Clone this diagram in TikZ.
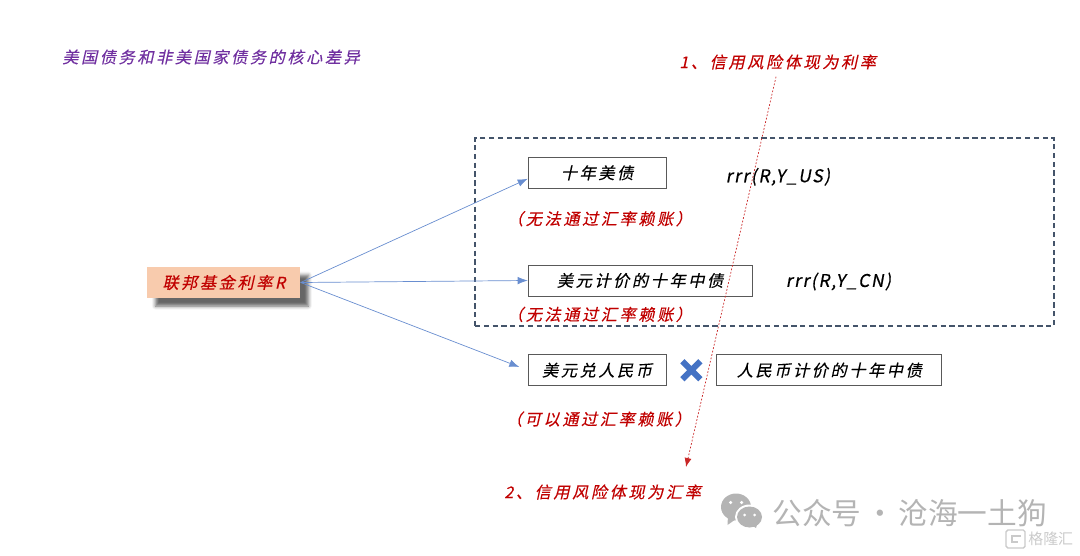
\documentclass[tikz,border=0pt]{standalone}
\usepackage{fontspec}
\usepackage{xcolor}
\usetikzlibrary{positioning, shapes.misc, arrows.meta, shadows.blur}
\newfontfamily\slantfont[FakeSlant=0.22, FakeBold=0.25, LetterSpace=16]{Noto Sans CJK SC}
\newfontfamily\rrrfont[FakeSlant=0.18, FakeBold=0.35, LetterSpace=9]{Noto Sans CJK SC}
\newfontfamily\markfont{Noto Sans CJK SC}
\definecolor{noteRed}{HTML}{C00000}
\definecolor{titlePurple}{HTML}{7030A0}
\definecolor{arrowBlue}{HTML}{4472C4}
\definecolor{slateLine}{HTML}{44546A}
\definecolor{fedFill}{HTML}{F8CBAD}
\definecolor{markGray}{HTML}{B4B4B4}
\tikzset{
  bondbox/.style={rectangle, draw=black!65, minimum height=0.62cm, inner sep=0pt, font=\slantfont\fontsize{9.2}{11}\selectfont},
  fedbox/.style={rectangle, fill=fedFill, minimum width=3.06cm, minimum height=0.62cm, inner sep=0pt, text=noteRed, font=\slantfont\fontsize{9.2}{11}\selectfont, blur shadow={shadow xshift=0.16cm, shadow yshift=-0.16cm, shadow blur radius=0.07cm, shadow opacity=60}},
  note/.style={inner sep=0pt, text=noteRed, font=\slantfont\fontsize{9.2}{11}\selectfont},
  rrrlabel/.style={inner sep=0pt, font=\rrrfont\fontsize{10}{12}\selectfont},
  link/.style={-{Latex[length=0.2cm, width=0.15cm]}, arrowBlue!80, line width=0.4pt},
  riskarrow/.style={-{Latex[length=0.18cm, width=0.14cm]}, noteRed!85, line width=0.4pt, dash pattern=on 1pt off 1pt},
}

\begin{document}
\begin{tikzpicture}
  \useasboundingbox (0,0) rectangle (21.6,-11.12);

  % Title
  \node[note, text=titlePurple, anchor=west] (title) at (1.24,-1.14) {美国债务和非美国家债务的核心差异};

  % Dashed frame
  \node[draw=slateLine, dash pattern=on 3pt off 2pt, line width=0.6pt, minimum width=11.58cm, minimum height=3.76cm] (frame) at (15.29,-4.64) {};

  % Nodes
  \node[fedbox, anchor=west] (fed) at (2.94,-5.65) {联邦基金利率R};
  \node[bondbox, minimum width=4.48cm, right=4.54cm of fed, yshift=0.04cm] (cnbond) {美元计价的十年中债};
  \node[bondbox, minimum width=2.76cm, above=1.52cm of cnbond.north west, anchor=south west] (usbond) {十年美债};
  \node[bondbox, minimum width=2.76cm, below=1.16cm of cnbond.south west, anchor=north west] (fxbox) {美元兑人民币};
  \node[bondbox, minimum width=4.5cm, right=1cm of fxbox] (cnybond) {人民币计价的十年中债};
  \node[cross out, draw=arrowBlue, line width=3.4pt, minimum size=0.24cm, inner sep=0pt, right=0.32cm of fxbox] (times) {};

  % Notes under the boxes
  \node[note, below right=0.44cm and -0.42cm of usbond.south west] (noteus) {（无法通过汇率赖账）};
  \node[note, below right=0.2cm and -0.42cm of cnbond.south west] (notecn) {（无法通过汇率赖账）};
  \node[note, below right=0.5cm and -0.44cm of fxbox.south west] (notefx) {（可以通过汇率赖账）};

  % Yield labels
  \node[rrrlabel, right=1.18cm of usbond, yshift=-0.08cm] (rrrus) {rrr(R,Y\_US)};
  \node[rrrlabel, right=0.66cm of cnbond, yshift=-0.02cm] (rrrcn) {rrr(R,Y\_CN)};

  % Risk labels
  \node[note, anchor=west] (riskrate) at (13.58,-1.24) {1、信用风险体现为利率};
  \node[note, anchor=west] (riskfx) at (10.08,-9.84) {2、信用风险体现为汇率};
  \coordinate (riskend) at (13.72,-9.34);

  % Arrows
  \draw[link] (fed.east) -- ([yshift=-0.12cm]usbond.west);
  \draw[link] (fed.east) -- (cnbond.west);
  \draw[link, shorten >=0.18cm] (fed.east) -- (fxbox.west);
  \draw[riskarrow, shorten <=0.14cm] (riskrate.south) -- (riskend);

  % Watermark
  \fill[markGray] (14.72,-10.14) ellipse (0.3cm and 0.27cm);
  \fill[markGray] (14.55,-10.5) -- (14.56,-10.3) -- (14.72,-10.38) -- cycle;
  \fill[white] (14.99,-10.34) ellipse (0.29cm and 0.25cm);
  \fill[markGray] (14.99,-10.34) ellipse (0.25cm and 0.21cm);
  \fill[markGray] (15.12,-10.56) -- (15.02,-10.5) -- (15.15,-10.46) -- cycle;
  \foreach \dotx/\doty in {14.61/-10.05, 14.83/-10.05} {
    \fill[white] (\dotx,\doty) circle (0.035cm);
  }
  \foreach \dotx/\doty in {14.89/-10.3, 15.09/-10.3} {
    \fill[white] (\dotx,\doty) circle (0.03cm);
  }
  \node[inner sep=0pt, anchor=west, text=markGray, font=\markfont\fontsize{16.9}{20}\selectfont] (mark) at (15.44,-10.26) {公众号\kern-0.1em{} · \kern-0.1em{}沧海一土狗};
  \draw[markGray!70, rounded corners=1pt, line width=0.8pt] (20.12,-10.6) rectangle (20.5,-10.96);
  \draw[markGray!70, line width=0.8pt] (20.42,-10.72) -- (20.24,-10.72) -- (20.24,-10.84) -- (20.36,-10.84);
  \node[inner sep=0pt, anchor=west, text=markGray!70, font=\markfont\fontsize{8.5}{10}\selectfont] (brand) at (20.56,-10.78) {格隆汇};
\end{tikzpicture}
\end{document}
